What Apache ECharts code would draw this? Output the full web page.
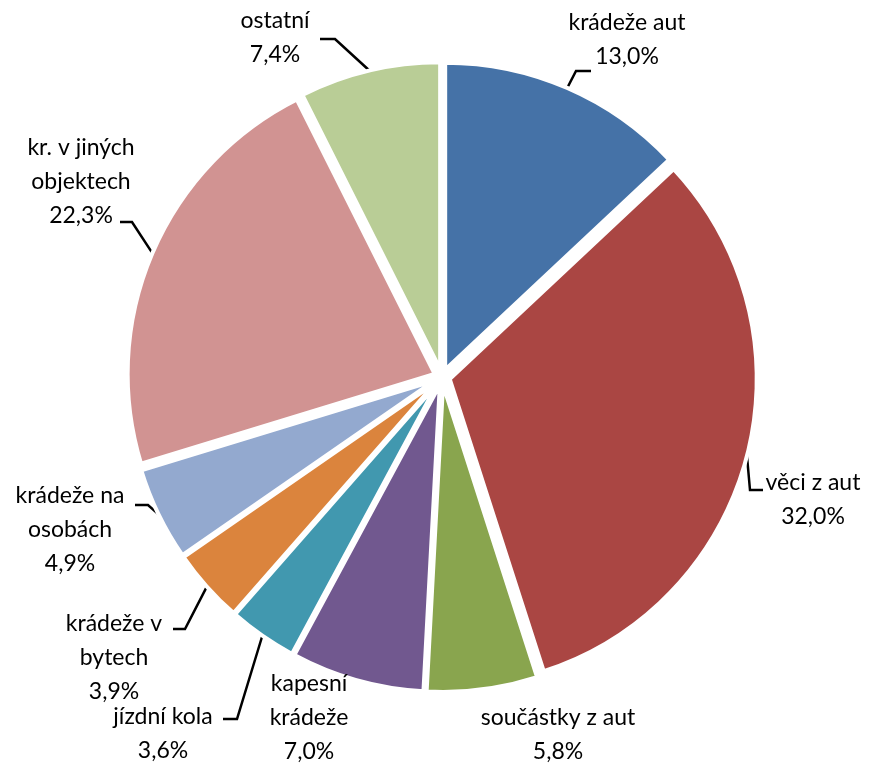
<!DOCTYPE html>
<html><head><meta charset="utf-8">
<script src="https://cdn.jsdelivr.net/npm/echarts@6/dist/echarts.min.js"></script>
<style>html,body{margin:0;padding:0;background:#fff}#c{width:869px;height:764px}</style>
</head><body><div id="c"></div>
<script>
// data
const categories = ['krádeže aut','věci z aut','součástky z aut','kapesní\nkrádeže','jízdní kola','krádeže v\nbytech','krádeže na\nosobách','kr. v jiných\nobjektech','ostatní'];
const values = [13.0, 32.0, 5.8, 7.0, 3.6, 3.9, 4.9, 22.3, 7.4];
const colors = ['#4572A7','#AA4643','#89A54E','#71588F','#4198AF','#DB843D','#93A9CF','#D19392','#B9CD96'];

// layout (label anchors: text block centre; leader knee & end points)
const CX = 442, CY = 377, R = 307, OFFSET = 8;
const labelPos = [[627,40],[813,500],[558,735],[309,718],[163,734],[114,658],[70,530],[81,182],[275,38]];
const leader = [[[576,71],[591,71]],[[750,490],[763,490]],null,null,[[237,719],[223,719]],[[185,629],[173,629]],[[148,505],[135,505]],[[132,222],[120,222]],[[335,39],[320,39]]];

const total = values.reduce((a,b)=>a+b,0);
function startPoint(i){
  let cum = 0; for (let k=0;k<i;k++) cum += values[k];
  const mid = (cum + values[i]/2)/total * Math.PI*2; // from top, clockwise
  const r = R + OFFSET;
  return [CX + r*Math.sin(mid), CY - r*Math.cos(mid)];
}

const chart = echarts.init(document.getElementById('c'), null, {renderer:'canvas'});
chart.setOption({
  animation: false,
  series: [{
    type: 'pie',
    center: [CX, CY],
    radius: R,
    startAngle: 90,
    clockwise: true,
    selectedMode: 'multiple',
    selectedOffset: OFFSET,
    itemStyle: { borderColor: '#fff', borderWidth: 4 },
    emphasis: { disabled: true },
    label: { show: false },
    labelLine: { show: false },
    data: categories.map((n, i) => ({
      name: n, value: values[i], selected: true,
      itemStyle: { color: colors[i] }
    }))
  }, {
    type: 'pie',
    silent: true,
    center: [CX, CY],
    radius: R,
    startAngle: 90,
    clockwise: true,
    avoidLabelOverlap: false,
    itemStyle: { color: 'rgba(0,0,0,0)', borderWidth: 0 },
    emphasis: { disabled: true },
    label: {
      show: true,
      position: 'outside',
      color: '#000',
      fontFamily: 'Lato',
      fontSize: 23,
      lineHeight: 34,
      align: 'center',
      formatter: p => p.name + '\n' + p.value.toFixed(1).replace('.', ',') + '%'
    },
    labelLine: { show: true, lineStyle: { color: '#000', width: 2.5 } },
    labelLayout: function (p) {
      const i = p.dataIndex;
      const o = { x: labelPos[i][0], y: labelPos[i][1], align: 'center', verticalAlign: 'middle' };
      if (leader[i]) o.labelLinePoints = [startPoint(i), leader[i][0], leader[i][1]];
      return o;
    },
    data: categories.map((n, i) => ({
      name: n, value: values[i],
      labelLine: { show: !!leader[i] }
    }))
  }]
});
</script></body></html>
